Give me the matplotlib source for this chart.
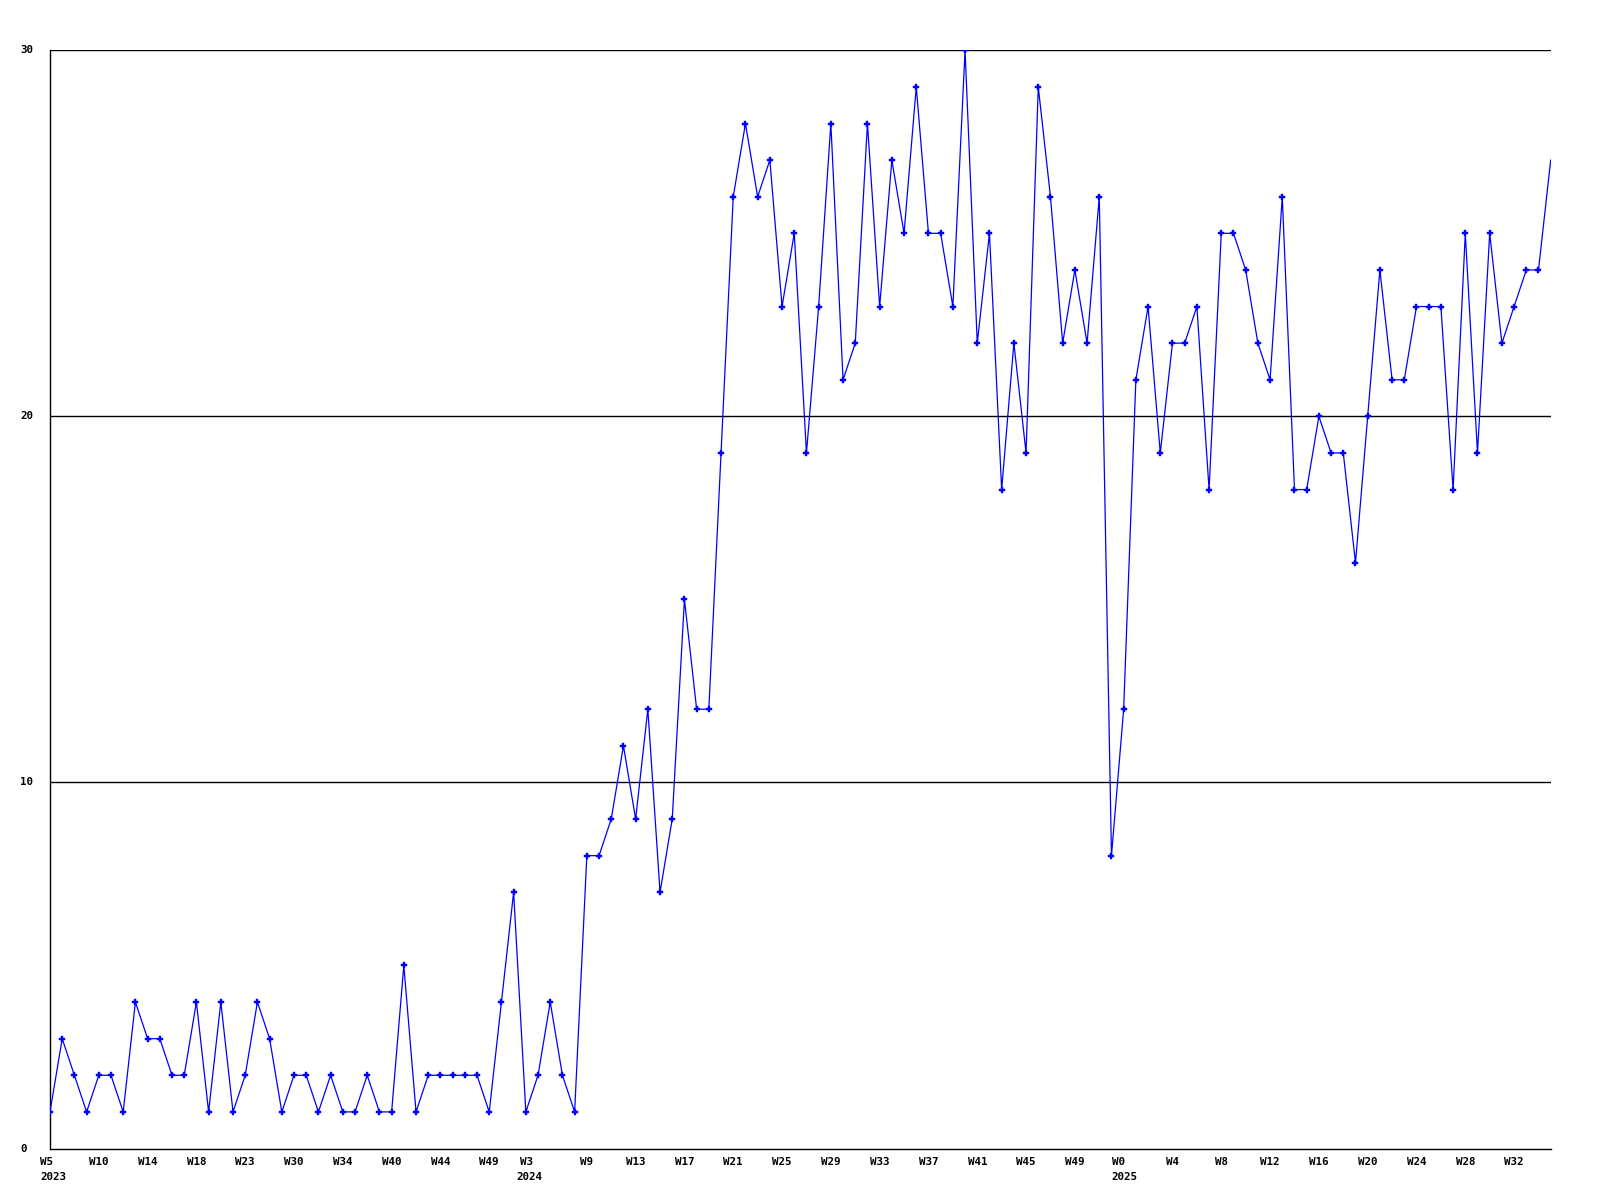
import numpy as np
import matplotlib
matplotlib.use("Agg")
import matplotlib.pyplot as plt
from matplotlib import transforms

# ---- data ----
values = [1, 3, 2, 1, 2, 2, 1, 4, 3, 3, 2, 2, 4, 1, 4, 1, 2, 4, 3, 1,
          2, 2, 1, 2, 1, 1, 2, 1, 1, 5, 1, 2, 2, 2, 2, 2, 1, 4, 7, 1,
          2, 4, 2, 1, 8, 8, 9, 11, 9, 12, 7, 9, 15, 12, 12, 19, 26, 28, 26, 27,
          23, 25, 19, 23, 28, 21, 22, 28, 23, 27, 25, 29, 25, 25, 23, 30, 22, 25, 18, 22,
          19, 29, 26, 22, 24, 22, 26, 8, 12, 21, 23, 19, 22, 22, 23, 18, 25, 25, 24, 22,
          21, 26, 18, 18, 20, 19, 19, 16, 20, 24, 21, 21, 23, 23, 23, 18, 25, 19, 25, 22,
          23, 24, 24, 27]
week_labels = ["W5", "W10", "W14", "W18", "W23", "W30", "W34", "W40", "W44", "W49",
               "W3", "W9", "W13", "W17", "W21", "W25", "W29", "W33", "W37", "W41",
               "W45", "W49", "W0", "W4", "W8", "W12", "W16", "W20", "W24", "W28", "W32"]
year_labels = {0: "2023", 10: "2024", 22: "2025"}   # label slot -> year
y_ticks = [0, 10, 20, 30]

# ---- layout ----
W, H = 1600, 1200
x0, x1 = 50, 1550.7
y0, y1 = 1148.5, 50.3
fig = plt.figure(figsize=(W / 100, H / 100), dpi=100)
ax = fig.add_axes([x0 / W, 1 - y0 / H, (x1 - x0) / W, (y0 - y1) / H])

n = len(values)
xs = np.arange(n)
ax.set_xlim(0, n - 1)
ax.set_ylim(0, 30)

for v in y_ticks[1:]:
    ax.axhline(v, color="black", lw=1.0, zorder=1)

ax.plot(xs, values, color="#0000ff", lw=0.9, marker="P", ms=3.8,
        mfc="#0000ff", mec="#0000ff", mew=0.3, markevery=slice(0, n - 1),
        zorder=3)

for s in ["top", "right"]:
    ax.spines[s].set_visible(False)
for s in ["left", "bottom"]:
    ax.spines[s].set_color("black")
    ax.spines[s].set_linewidth(1.0)
ax.set_xticks([])
ax.set_yticks([])

font = dict(family="DejaVu Sans Mono", fontweight="bold", fontsize=7.8, color="black")

# y labels (left aligned at x=20 px)
ytr = transforms.blended_transform_factory(fig.transFigure, ax.transData)
for v in y_ticks:
    fig.text(20 / W, v, str(v), transform=ytr, ha="left", va="center", **font)

# x labels
xtr = transforms.blended_transform_factory(ax.transData, fig.transFigure)
special_dx = {0: (-10, -10), 10: (-18, -22), 22: (-12, -12)}
for k, lab in enumerate(week_labels):
    xi = xs[k * 4]
    if k in special_dx:
        dxw, dxy = special_dx[k]
        t1 = transforms.offset_copy(xtr, fig=fig, x=dxw, y=0, units="dots")
        ax.text(xi, 1 - 1157 / H, lab, transform=t1, ha="left", va="top",
                clip_on=False, **font)
        t2 = transforms.offset_copy(xtr, fig=fig, x=dxy, y=0, units="dots")
        ax.text(xi, 1 - 1172 / H, year_labels[k], transform=t2, ha="left",
                va="top", clip_on=False, **font)
    else:
        ax.text(xi, 1 - 1157 / H, lab, transform=xtr, ha="center", va="top",
                clip_on=False, **font)

fig.savefig("out.png", dpi=100, facecolor="white")
